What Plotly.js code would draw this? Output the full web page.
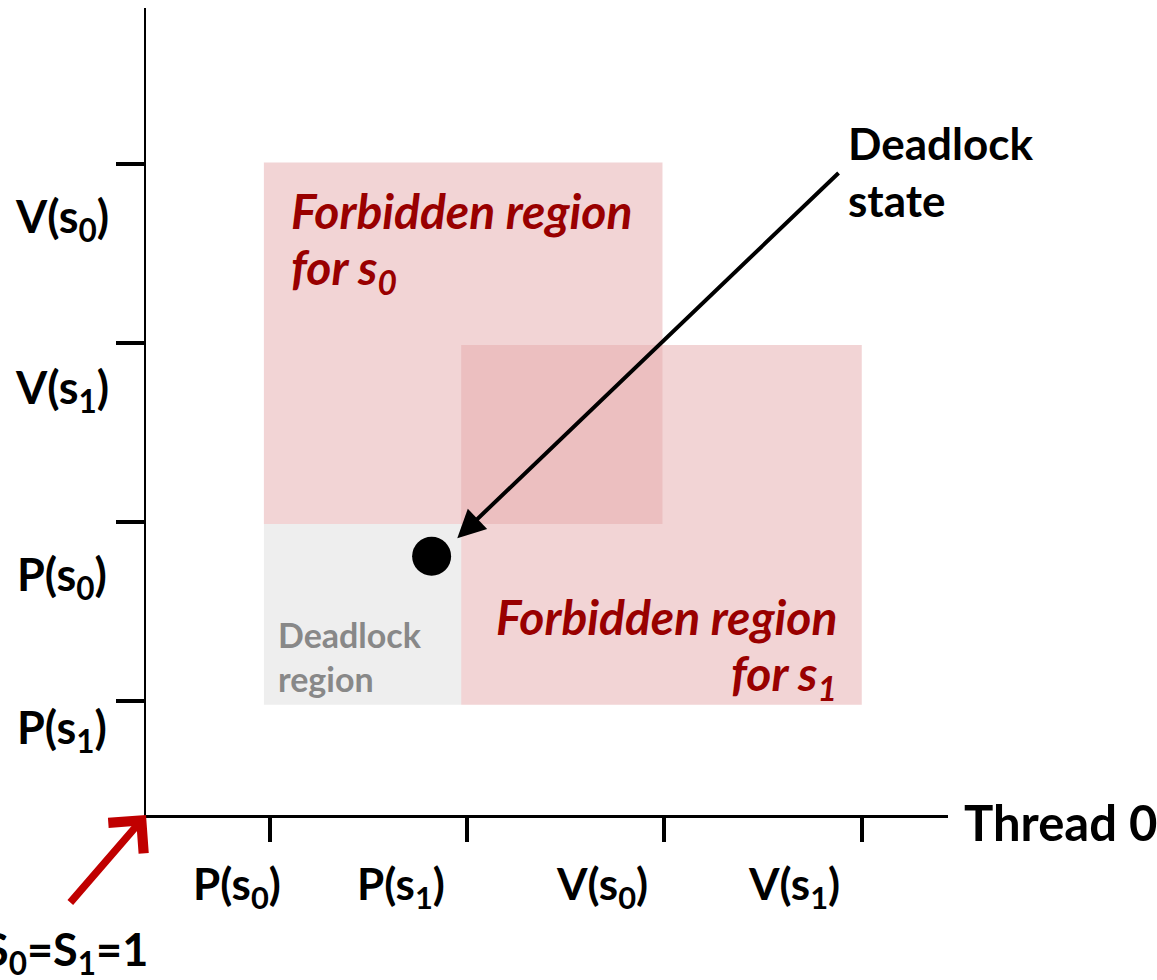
<!DOCTYPE html>
<html>
<head>
<meta charset="utf-8">
<script src="https://cdn.plot.ly/plotly-3.0.1.min.js"></script>
<style>html,body{margin:0;padding:0;background:#fff;}#chart{width:1157px;height:980px;}</style>
</head>
<body>
<div id="chart"></div>
<script>
// ---- data (progress-graph units: 1..4 = the four operations of each thread) ----
const xTickVals = [1, 2, 3, 4];
const xTickText = ['P(s<sub>0</sub>)', 'P(s<sub>1</sub>)', 'V(s<sub>0</sub>)', 'V(s<sub>1</sub>)'];
const yTickVals = [1, 2, 3, 4];
const yTickText = ['P(s<sub>1</sub>)', 'P(s<sub>0</sub>)', 'V(s<sub>1</sub>)', 'V(s<sub>0</sub>)'];

const regionNames = ['Deadlock region', 'Forbidden region for s0', 'Forbidden region for s1'];
const regionX0 = [0.97, 0.97, 1.97];
const regionX1 = [1.97, 2.99, 4.00];
const regionY0 = [0.98, 1.99, 0.98];
const regionY1 = [1.99, 4.01, 2.99];

const deadlockX = [1.82];
const deadlockY = [1.81];
const calloutFromX = 3.89;
const calloutFromY = 3.96;
const calloutToX = 1.95;
const calloutToY = 1.91;

// ---- layout constants ----
const L = 146, R = 948, T = 8, B = 815;
const px = x => (x - L) / (R - L);
const py = y => (B - y) / (B - T);
const FONT = 'Lato, "Open Sans", sans-serif';
const regionFill = ['#eeeeee', 'rgba(230,170,172,0.5)', 'rgba(230,170,172,0.5)'];
const xLabelShift = [-33, -66, -62, -68];
const yLabelShift = [-29, -55, -47, -55];
const redText = {family: FONT, size: 48, color: '#990000'};

const shapes = regionNames.map((n, i) => ({
  type: 'rect', xref: 'x', yref: 'y', layer: 'below',
  x0: regionX0[i], x1: regionX1[i], y0: regionY0[i], y1: regionY1[i],
  fillcolor: regionFill[i], line: {width: 0}
}));

const annotations = [];
xTickText.forEach((t, i) => annotations.push({
  xref: 'x', yref: 'paper', x: xTickVals[i], y: py(886), xshift: xLabelShift[i],
  xanchor: 'center', yanchor: 'middle', showarrow: false,
  text: '<b>' + t + '</b>', font: {family: FONT, size: 44, color: '#000'}
}));
yTickText.forEach((t, i) => annotations.push({
  xref: 'paper', yref: 'y', x: px(62), y: yTickVals[i], yshift: yLabelShift[i],
  xanchor: 'center', yanchor: 'middle', showarrow: false,
  text: '<b>' + t + '</b>', font: {family: FONT, size: 45, color: '#000'}
}));
annotations.push(
  {xref: 'paper', yref: 'paper', x: px(289), y: py(180), xanchor: 'left', yanchor: 'top',
   showarrow: false, text: '<b><i>Forbidden region</i></b>', font: redText},
  {xref: 'paper', yref: 'paper', x: px(289), y: py(236), xanchor: 'left', yanchor: 'top',
   showarrow: false, text: '<b><i>for s<sub>0</sub></i></b>', font: redText},
  {xref: 'paper', yref: 'paper', x: px(839), y: py(586), xanchor: 'right', yanchor: 'top',
   showarrow: false, text: '<b><i>Forbidden region</i></b>', font: redText},
  {xref: 'paper', yref: 'paper', x: px(839), y: py(642), xanchor: 'right', yanchor: 'top',
   showarrow: false, text: '<b><i>for s<sub>1</sub></i></b>', font: redText},
  {xref: 'paper', yref: 'paper', x: px(276), y: py(612), xanchor: 'left', yanchor: 'top', align: 'left',
   showarrow: false, text: '<b>Deadlock<br>region</b>',
   font: {family: FONT, size: 34, color: '#888888'}},
  {xref: 'paper', yref: 'paper', x: px(846), y: py(115), xanchor: 'left', yanchor: 'top', align: 'left',
   showarrow: false, text: '<b>Deadlock<br>state</b>',
   font: {family: FONT, size: 44, color: '#000'}},
  {xref: 'paper', yref: 'paper', x: px(962), y: py(822), xanchor: 'left', yanchor: 'middle',
   showarrow: false, text: '<b>Thread 0</b>',
   font: {family: FONT, size: 49, color: '#000'}},
  {xref: 'paper', yref: 'paper', x: px(150), y: py(952), xanchor: 'right', yanchor: 'middle',
   showarrow: false, text: '<b>S<sub>0</sub>=S<sub>1</sub>=1</b>',
   font: {family: FONT, size: 45, color: '#000'}},
  // callout arrow to the deadlock state
  {xref: 'x', yref: 'y', axref: 'x', ayref: 'y',
   x: calloutToX, y: calloutToY, ax: calloutFromX, ay: calloutFromY,
   showarrow: true, arrowhead: 2, arrowsize: 1.4, arrowwidth: 4, arrowcolor: '#000', text: ''},
  // red arrow pointing to the origin
  {xref: 'paper', yref: 'paper', x: 0, y: 0, ax: -77, ay: 89,
   showarrow: true, arrowhead: 4, arrowsize: 1.2, arrowwidth: 7.5, arrowcolor: '#c00000', text: ''}
);

const data = [{
  type: 'scatter', mode: 'markers', x: deadlockX, y: deadlockY, name: 'Deadlock state',
  marker: {size: 39, color: '#000'}, cliponaxis: false, hoverinfo: 'skip'
}];

const layout = {
  width: 1157, height: 980,
  margin: {l: L, r: 1157 - R, t: T, b: 980 - B},
  paper_bgcolor: '#fff', plot_bgcolor: '#fff',
  showlegend: false,
  xaxis: {range: [0.3725, 4.437], showgrid: false, zeroline: false, showline: true,
          linecolor: '#000', linewidth: 3, ticks: 'outside', ticklen: 24, tickwidth: 4,
          tickcolor: '#000', tickvals: xTickVals, showticklabels: false, fixedrange: true},
  yaxis: {range: [0.3633, 4.874], showgrid: false, zeroline: false, showline: true,
          linecolor: '#000', linewidth: 2.5, ticks: 'outside', ticklen: 28, tickwidth: 4,
          tickcolor: '#000', tickvals: yTickVals, showticklabels: false, fixedrange: true},
  shapes: shapes,
  annotations: annotations
};

Plotly.newPlot('chart', data, layout, {displayModeBar: false, staticPlot: true});
</script>
</body>
</html>
